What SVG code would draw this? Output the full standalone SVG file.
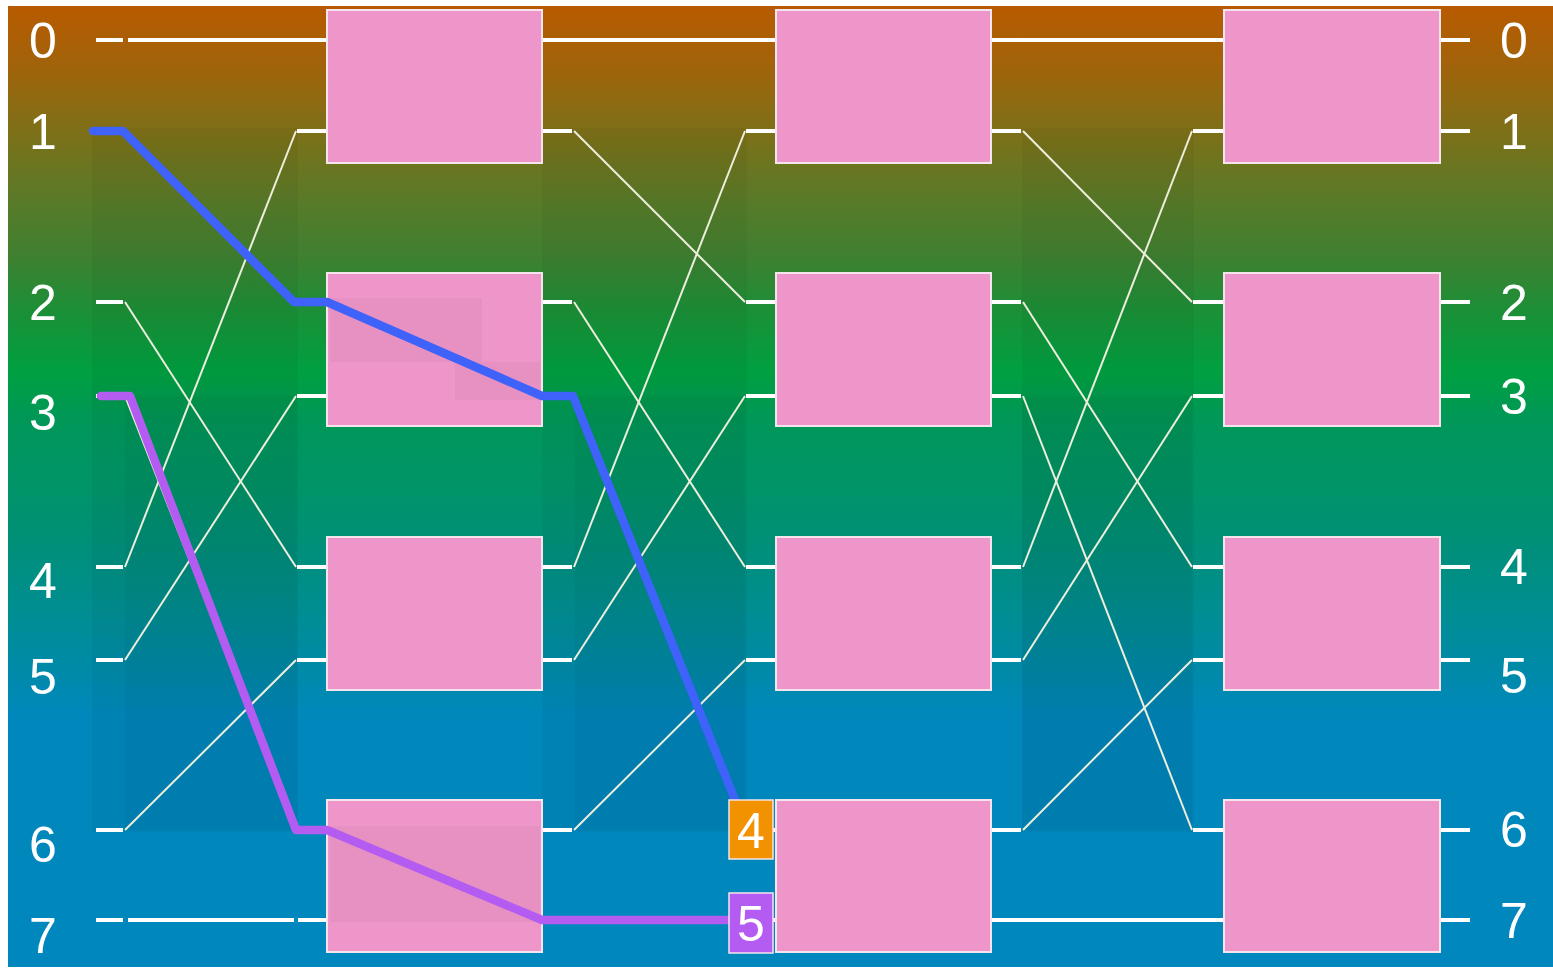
<svg xmlns="http://www.w3.org/2000/svg" width="1553" height="970" viewBox="0 0 1553 970">
  <defs>
    <linearGradient id="bg" gradientUnits="userSpaceOnUse" x1="0" y1="6" x2="0" y2="967">
      <stop offset="0" stop-color="#B85A00"/>
      <stop offset="0.06" stop-color="#A2630A"/>
      <stop offset="0.13" stop-color="#7E7018"/>
      <stop offset="0.2" stop-color="#5A7A28"/>
      <stop offset="0.26" stop-color="#3F8030"/>
      <stop offset="0.32" stop-color="#1A9038"/>
      <stop offset="0.38" stop-color="#00A040"/>
      <stop offset="0.43" stop-color="#009758"/>
      <stop offset="0.5" stop-color="#009468"/>
      <stop offset="0.57" stop-color="#008F7C"/>
      <stop offset="0.63" stop-color="#008E92"/>
      <stop offset="0.69" stop-color="#008AA8"/>
      <stop offset="0.74" stop-color="#0088BC"/>
      <stop offset="1" stop-color="#0088BE"/>
    </linearGradient>
    <style>
      .box { fill: #EE96C9; stroke: #F4E4EC; stroke-width: 2; }
      .stub { stroke: #FFFFFF; stroke-width: 4; fill: none; }
      .wire { stroke: #EEEEDD; stroke-width: 2; fill: none; }
      .shade { fill: #000000; opacity: 0.04; }
      .shade2 { fill: #000000; opacity: 0.03; }
      .lbl { font-family: "Liberation Sans", Arial, sans-serif; font-size: 50px; fill: #FFFFFF; text-anchor: middle; }
      .path-blue { stroke: #3F62FA; stroke-width: 8.5; fill: none; stroke-linejoin: round; stroke-linecap: round; }
      .path-purple { stroke: #B45CF2; stroke-width: 8.5; fill: none; stroke-linejoin: round; stroke-linecap: round; }
    </style>
  </defs>

  <rect x="0" y="0" width="1553" height="970" fill="#FFFFFF"/>
  <rect x="8" y="6" width="1545" height="961" fill="url(#bg)"/>

  <!-- subtle shading in crossing regions -->
  <g id="shading">
    <rect class="shade" x="92" y="128" width="206" height="704"/>
    <rect class="shade2" x="125" y="396" width="172" height="434"/>
    <rect class="shade" x="542" y="128" width="205" height="704"/>
    <rect class="shade2" x="575" y="396" width="170" height="434"/>
    <rect class="shade" x="1022" y="128" width="172" height="704"/>
    <rect class="shade2" x="1022" y="396" width="170" height="434"/>
  </g>

  <g id="connectors">
    <g class="stub">
      <line x1="96" y1="40" x2="123" y2="40"/>
      <line x1="96" y1="131" x2="123" y2="131"/>
      <line x1="96" y1="302" x2="123" y2="302"/>
      <line x1="96" y1="396" x2="123" y2="396"/>
      <line x1="96" y1="567" x2="123" y2="567"/>
      <line x1="96" y1="660" x2="123" y2="660"/>
      <line x1="96" y1="830" x2="123" y2="830"/>
      <line x1="96" y1="920" x2="123" y2="920"/>
      <line x1="128" y1="40" x2="327" y2="40"/>
      <line x1="128" y1="920" x2="294" y2="920"/>
      <line x1="298" y1="920" x2="327" y2="920"/>
      <line x1="297" y1="131" x2="327" y2="131"/>
      <line x1="297" y1="302" x2="327" y2="302"/>
      <line x1="297" y1="396" x2="327" y2="396"/>
      <line x1="297" y1="567" x2="327" y2="567"/>
      <line x1="297" y1="660" x2="327" y2="660"/>
      <line x1="297" y1="830" x2="327" y2="830"/>
      <line x1="542" y1="40" x2="776" y2="40"/>
      <line x1="542" y1="131" x2="572" y2="131"/>
      <line x1="542" y1="302" x2="572" y2="302"/>
      <line x1="542" y1="396" x2="572" y2="396"/>
      <line x1="542" y1="567" x2="572" y2="567"/>
      <line x1="542" y1="660" x2="572" y2="660"/>
      <line x1="542" y1="830" x2="572" y2="830"/>
      <line x1="542" y1="920" x2="776" y2="920"/>
      <line x1="746" y1="131" x2="776" y2="131"/>
      <line x1="746" y1="302" x2="776" y2="302"/>
      <line x1="746" y1="396" x2="776" y2="396"/>
      <line x1="746" y1="567" x2="776" y2="567"/>
      <line x1="746" y1="660" x2="776" y2="660"/>
      <line x1="746" y1="830" x2="776" y2="830"/>
      <line x1="991" y1="40" x2="1224" y2="40"/>
      <line x1="991" y1="131" x2="1021" y2="131"/>
      <line x1="991" y1="302" x2="1021" y2="302"/>
      <line x1="991" y1="396" x2="1021" y2="396"/>
      <line x1="991" y1="567" x2="1021" y2="567"/>
      <line x1="991" y1="660" x2="1021" y2="660"/>
      <line x1="991" y1="830" x2="1021" y2="830"/>
      <line x1="991" y1="920" x2="1224" y2="920"/>
      <line x1="1193" y1="131" x2="1224" y2="131"/>
      <line x1="1193" y1="302" x2="1224" y2="302"/>
      <line x1="1193" y1="396" x2="1224" y2="396"/>
      <line x1="1193" y1="567" x2="1224" y2="567"/>
      <line x1="1193" y1="660" x2="1224" y2="660"/>
      <line x1="1193" y1="830" x2="1224" y2="830"/>
      <line x1="1440" y1="40" x2="1470" y2="40"/>
      <line x1="1440" y1="131" x2="1470" y2="131"/>
      <line x1="1440" y1="302" x2="1470" y2="302"/>
      <line x1="1440" y1="396" x2="1470" y2="396"/>
      <line x1="1440" y1="567" x2="1470" y2="567"/>
      <line x1="1440" y1="660" x2="1470" y2="660"/>
      <line x1="1440" y1="830" x2="1470" y2="830"/>
      <line x1="1440" y1="920" x2="1470" y2="920"/>
    </g>
    <g class="wire">
      <line x1="125" y1="131" x2="296" y2="302"/>
      <line x1="125" y1="302" x2="296" y2="567"/>
      <line x1="125" y1="396" x2="296" y2="830"/>
      <line x1="125" y1="567" x2="296" y2="131"/>
      <line x1="125" y1="660" x2="296" y2="396"/>
      <line x1="125" y1="830" x2="296" y2="660"/>
      <line x1="574" y1="131" x2="745" y2="302"/>
      <line x1="574" y1="302" x2="745" y2="567"/>
      <line x1="574" y1="396" x2="745" y2="830"/>
      <line x1="574" y1="567" x2="745" y2="131"/>
      <line x1="574" y1="660" x2="745" y2="396"/>
      <line x1="574" y1="830" x2="745" y2="660"/>
      <line x1="1023" y1="131" x2="1192" y2="302"/>
      <line x1="1023" y1="302" x2="1192" y2="567"/>
      <line x1="1023" y1="396" x2="1192" y2="830"/>
      <line x1="1023" y1="567" x2="1192" y2="131"/>
      <line x1="1023" y1="660" x2="1192" y2="396"/>
      <line x1="1023" y1="830" x2="1192" y2="660"/>
    </g>
  </g>

  <g id="c1r0"><rect class="box" x="327" y="10" width="215" height="153"/></g>
  <g id="c1r1"><rect class="box" x="327" y="273" width="215" height="153"/>
    <rect class="shade2" x="330" y="298" width="152" height="64"/>
    <rect class="shade2" x="455" y="362" width="85" height="38"/></g>
  <g id="c1r2"><rect class="box" x="327" y="537" width="215" height="153"/></g>
  <g id="c1r3"><rect class="box" x="327" y="800" width="215" height="152"/>
    <rect class="shade2" x="330" y="826" width="210" height="96"/></g>

  <g id="c2r0"><rect class="box" x="776" y="10" width="215" height="153"/></g>
  <g id="c2r1"><rect class="box" x="776" y="273" width="215" height="153"/></g>
  <g id="c2r2"><rect class="box" x="776" y="537" width="215" height="153"/></g>
  <g id="c2r3"><rect class="box" x="776" y="800" width="215" height="152"/></g>

  <g id="c3r0"><rect class="box" x="1224" y="10" width="216" height="153"/></g>
  <g id="c3r1"><rect class="box" x="1224" y="273" width="216" height="153"/></g>
  <g id="c3r2"><rect class="box" x="1224" y="537" width="216" height="153"/></g>
  <g id="c3r3"><rect class="box" x="1224" y="800" width="216" height="152"/></g>

  <g id="routes">
    <polyline class="path-blue" points="93,131 123,131 294,302 327,302 542,396 573,396 735,800"/>
    <polyline class="path-purple" points="101,396 130,396 296,830 327,830 542,920 729,920"/>
  </g>

  <g id="badge4">
    <rect x="729" y="800" width="44" height="59" fill="#F39200" stroke="#F4E4EC" stroke-width="1.5"/>
    <text class="lbl" x="751" y="848">4</text>
  </g>
  <g id="badge5">
    <rect x="729" y="893" width="44" height="60" fill="#B45CF2" stroke="#F4E4EC" stroke-width="1.5"/>
    <text class="lbl" x="751" y="941">5</text>
  </g>

  <g id="labels-left">
    <text class="lbl" x="43" y="58">0</text>
    <text class="lbl" x="43" y="149">1</text>
    <text class="lbl" x="43" y="320">2</text>
    <text class="lbl" x="43" y="430">3</text>
    <text class="lbl" x="43" y="598">4</text>
    <text class="lbl" x="43" y="694">5</text>
    <text class="lbl" x="43" y="862">6</text>
    <text class="lbl" x="43" y="953">7</text>
  </g>
  <g id="labels-right">
    <text class="lbl" x="1514" y="58">0</text>
    <text class="lbl" x="1514" y="149">1</text>
    <text class="lbl" x="1514" y="320">2</text>
    <text class="lbl" x="1514" y="414">3</text>
    <text class="lbl" x="1514" y="584">4</text>
    <text class="lbl" x="1514" y="693">5</text>
    <text class="lbl" x="1514" y="847">6</text>
    <text class="lbl" x="1514" y="938">7</text>
  </g>
</svg>
